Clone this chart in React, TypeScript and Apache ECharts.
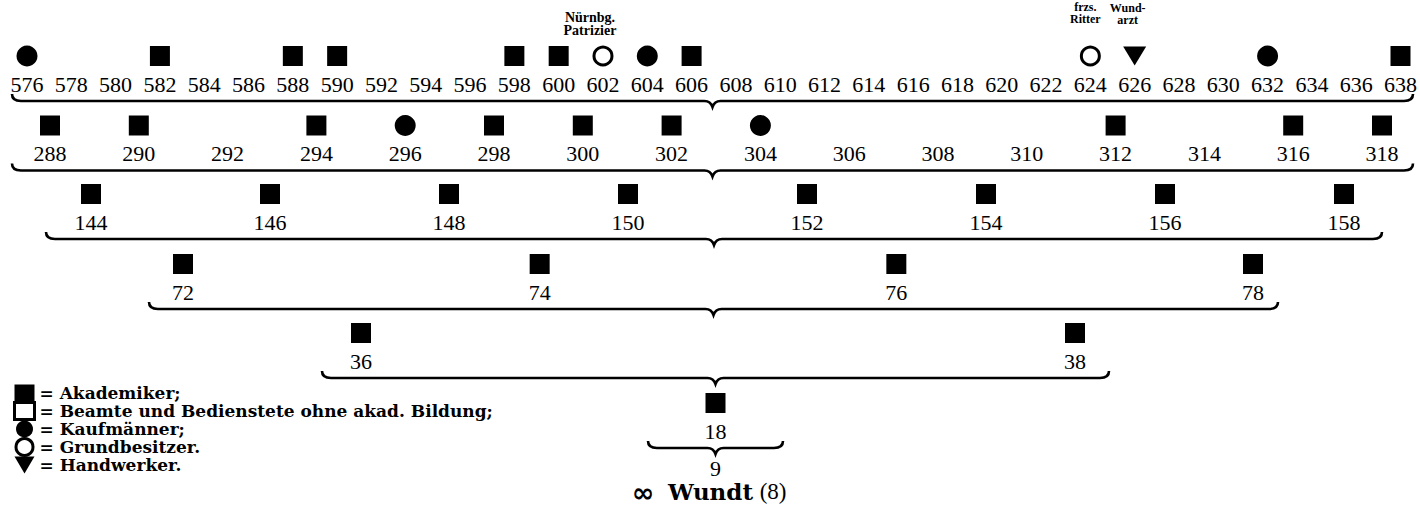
import { useEffect, useRef } from "react";
import * as echarts from "echarts";

// ---------- DATA ----------
// Ancestor numbers per generation (tick labels of each row)
const gen1Numbers = [576, 578, 580, 582, 584, 586, 588, 590, 592, 594, 596, 598, 600, 602, 604, 606, 608, 610, 612, 614, 616, 618, 620, 622, 624, 626, 628, 630, 632, 634, 636, 638];
const gen2Numbers = [288, 290, 292, 294, 296, 298, 300, 302, 304, 306, 308, 310, 312, 314, 316, 318];
const gen3Numbers = [144, 146, 148, 150, 152, 154, 156, 158];
const gen4Numbers = [72, 74, 76, 78];
const gen5Numbers = [36, 38];
const gen6Numbers = [18];
const gen7Numbers = [9];

// Occupation of each ancestor: A Akademiker, B Beamte, K Kaufmann, G Grundbesitzer, H Handwerker, "" unknown
const gen1Types = ["K", "", "", "A", "", "", "A", "A", "", "", "", "A", "A", "G", "K", "A", "", "", "", "", "", "", "", "", "G", "H", "", "", "K", "", "", "A"];
const gen2Types = ["A", "A", "", "A", "K", "A", "A", "A", "K", "", "", "", "A", "", "A", "A"];
const gen3Types = ["A", "A", "A", "A", "A", "A", "A", "A"];
const gen4Types = ["A", "A", "A", "A"];
const gen5Types = ["A", "A"];
const gen6Types = ["A"];
const gen7Types = [""];

const occupationKeys = ["A", "B", "K", "G", "H"];
const occupationNames = [
  "Akademiker;",
  "Beamte und Bedienstete ohne akad. Bildung;",
  "Kaufmänner;",
  "Grundbesitzer.",
  "Handwerker.",
];

const annotationNumbers = [602, 624, 626];
const annotationTexts = ["Nürnbg.\nPatrizier", "frzs.\nRitter", "Wund-\narzt"];

const descendantSymbol = "∞";
const descendantName = "Wundt";
const descendantNumber = "(8)";

// ---------- LAYOUT ----------
const rowNumbers = [gen1Numbers, gen2Numbers, gen3Numbers, gen4Numbers, gen5Numbers, gen6Numbers, gen7Numbers];
const rowTypes = [gen1Types, gen2Types, gen3Types, gen4Types, gen5Types, gen6Types, gen7Types];

const rowLayout = [
  { symbolY: 56, left: 27, width: 1374, braceL: 12, braceR: 1413, gap: false },
  { symbolY: 125.5, left: 50, width: 1332, braceL: 12, braceR: 1413, gap: false },
  { symbolY: 194, left: 91, width: 1253, braceL: 46, braceR: 1382, gap: false },
  { symbolY: 264, left: 183, width: 1070, braceL: 149, braceR: 1278, gap: false },
  { symbolY: 333, left: 361, width: 714, braceL: 322, braceR: 1109, gap: false },
  { symbolY: 403, left: 648, width: 135, braceL: 648, braceR: 783, gap: true },
  { symbolY: 440, left: 648, width: 135, braceL: -1, braceR: -1, gap: true },
];

const annotationLayout = [
  { offset: [-13, 0], distance: 9, fontSize: 14, lineHeight: 13 },
  { offset: [-5, 0], distance: 21, fontSize: 12, lineHeight: 12 },
  { offset: [-7, 0], distance: 21, fontSize: 12, lineHeight: 12 },
];

const TRI = "path://M0,0L20,0L10,17Z";

function symbolStyle(key: string) {
  switch (key) {
    case "A":
      return { symbol: "rect", symbolSize: 20, itemStyle: { color: "#000", opacity: 1 } };
    case "B":
      return { symbol: "rect", symbolSize: 15, itemStyle: { color: "#fff", borderColor: "#000", borderWidth: 3, opacity: 1 } };
    case "K":
      return { symbol: "circle", symbolSize: 21, itemStyle: { color: "#000", opacity: 1 } };
    case "G":
      return { symbol: "circle", symbolSize: 18, itemStyle: { color: "#fff", borderColor: "#000", borderWidth: 3, opacity: 1 } };
    default:
      return { symbol: TRI, symbolSize: [23, 19], itemStyle: { color: "#000", opacity: 1 } };
  }
}

function bracePath(L: number, R: number, y: number) {
  const m = (L + R) / 2;
  return `M${L},${y - 7} Q${L},${y} ${L + 9},${y} L${m - 8},${y} Q${m - 2},${y} ${m},${y + 6} Q${m + 2},${y} ${m + 8},${y} L${R - 9},${y} Q${R},${y} ${R},${y - 7}`;
}

const SERIF = "Liberation Serif";

export default function App() {
  const ref = useRef<HTMLDivElement>(null);

  useEffect(() => {
    if (!ref.current) return;
    const chart = echarts.init(ref.current, null, { renderer: "svg" });

    const grid: any[] = [];
    const xAxis: any[] = [];
    const yAxis: any[] = [];
    const series: any[] = [];

    rowNumbers.forEach((nums, r) => {
      const lay = rowLayout[r];
      grid.push({ left: lay.left, top: lay.symbolY - 10, width: lay.width, height: 20 });
      xAxis.push({
        type: "category",
        gridIndex: r,
        data: nums.map(String),
        boundaryGap: lay.gap,
        axisLine: { show: false },
        axisTick: { show: false },
        splitLine: { show: false },
        axisLabel: { interval: 0, margin: 7, fontSize: 22, fontFamily: SERIF, color: "#000" },
      });
      yAxis.push({ type: "value", gridIndex: r, min: 0, max: 1, show: false });

      occupationKeys.forEach((key, k) => {
        const data: any[] = [];
        rowTypes[r].forEach((t, i) => {
          if (t !== key) return;
          const ai = annotationNumbers.indexOf(nums[i]);
          const item: any = { value: [i, 0.5] };
          if (ai >= 0) {
            const al = annotationLayout[ai];
            item.label = {
              show: true,
              position: "top",
              formatter: annotationTexts[ai],
              distance: al.distance,
              offset: al.offset,
              fontFamily: SERIF,
              fontWeight: "bold",
              fontSize: al.fontSize,
              lineHeight: al.lineHeight,
              color: "#000",
            };
          }
          data.push(item);
        });
        if (data.length || (r === 0 && key === "B")) {
          series.push({
            type: "scatter",
            name: occupationNames[k],
            xAxisIndex: r,
            yAxisIndex: r,
            data,
            ...symbolStyle(key),
            silent: true,
            z: 3,
          });
        }
      });

      if (lay.braceL >= 0) {
        series.push({
          type: "custom",
          name: "brace" + r,
          xAxisIndex: r,
          yAxisIndex: r,
          data: [[0, 0]],
          silent: true,
          renderItem: (params: any) => {
            const cs = params.coordSys;
            const y = cs.y + cs.height + 35;
            return {
              type: "path",
              shape: { pathData: bracePath(lay.braceL, lay.braceR, y) },
              style: { fill: "none", stroke: "#000", lineWidth: 2.6 },
            };
          },
        });
      }
    });

    chart.setOption({
      animation: false,
      backgroundColor: "#fff",
      grid,
      xAxis,
      yAxis,
      series,
      legend: {
        orient: "vertical",
        left: 13,
        top: 384,
        padding: 0,
        itemWidth: 20,
        itemHeight: 17,
        itemGap: -1,
        selectedMode: false,
        formatter: "= {name}",
        textStyle: { fontFamily: "DejaVu Serif", fontWeight: "bold", fontSize: 17, lineHeight: 18, color: "#000" },
        data: occupationKeys.map((key, k) => {
          const s = symbolStyle(key);
          return { name: occupationNames[k], icon: s.symbol, itemStyle: s.itemStyle };
        }),
      },
      graphic: [
        {
          type: "text",
          left: 632,
          top: 476,
          style: {
            text: descendantSymbol,
            fill: "#000",
            fontFamily: "DejaVu Sans",
            fontWeight: "bold",
            fontSize: 27,
            lineHeight: 32,
          },
        },
        {
          type: "text",
          left: 668,
          top: 480,
          style: {
            text: `{w|${descendantName}}  {n|${descendantNumber}}`,
            fill: "#000",
            rich: {
              w: { fontFamily: "DejaVu Serif", fontWeight: "bold", fontSize: 23, lineHeight: 26, fill: "#000" },
              n: { fontFamily: SERIF, fontSize: 23, lineHeight: 26, fill: "#000" },
            },
          },
        },
      ],
    });

    return () => chart.dispose();
  }, []);

  return (
    <div
      ref={ref}
      style={{ position: "fixed", left: 0, top: 0, width: 1420, height: 507, background: "#fff" }}
    />
  );
}
